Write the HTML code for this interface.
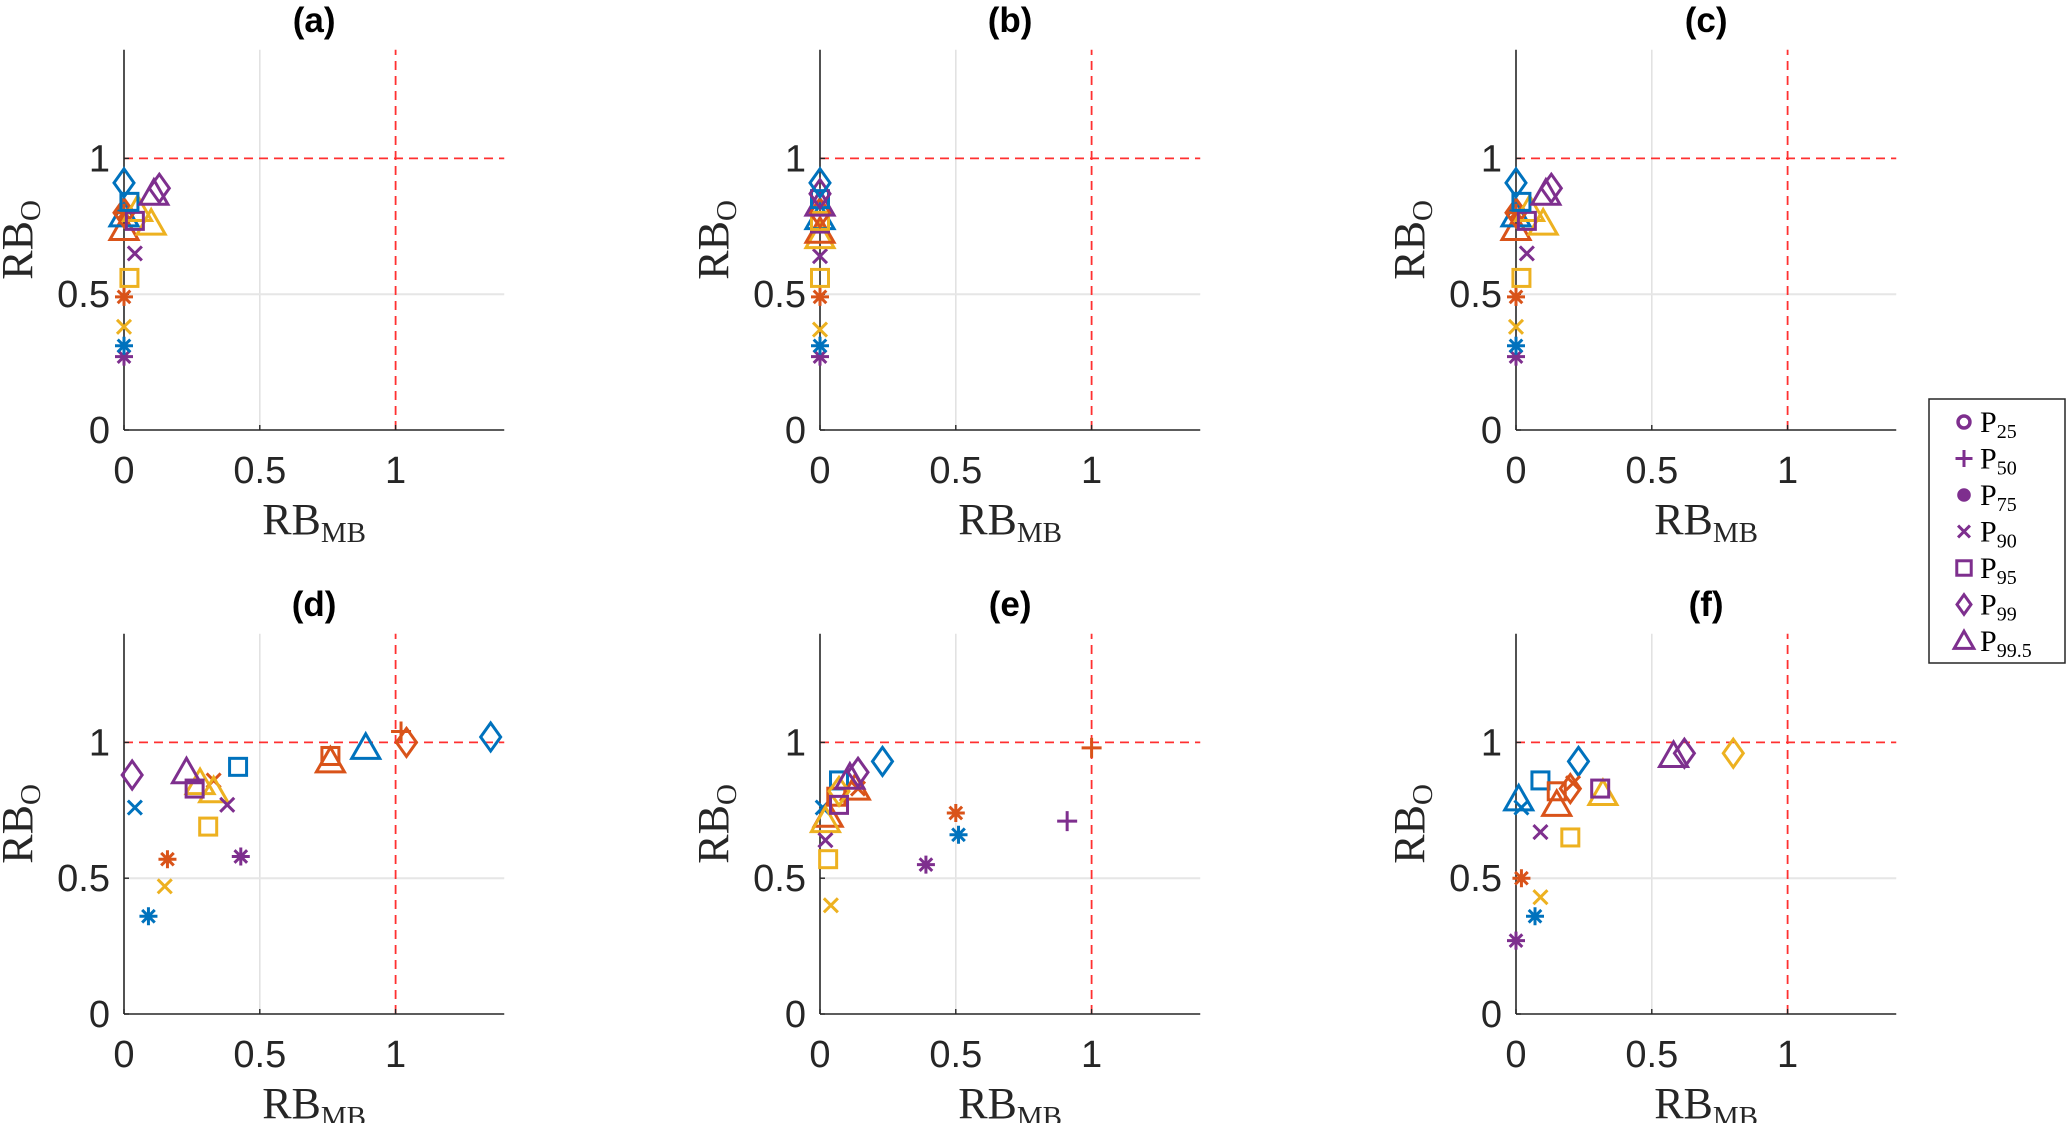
<!DOCTYPE html>
<html><head><meta charset="utf-8">
<style>
html,body{margin:0;padding:0;background:#fff;}
svg{display:block;}
</style></head>
<body>
<svg id="fig" width="2067" height="1123" viewBox="0 0 2067 1123" xmlns="http://www.w3.org/2000/svg"></svg>
<script>
// ----- data -----
const panelTitles = ["(a)","(b)","(c)","(d)","(e)","(f)"];
const seriesColors = ["#0072BD","#D95319","#EDB120","#7E2F8E"];
const seriesNames = ["blue","orange","yellow","purple"];
const tickValues = [0, 0.5, 1];
const tickLabels = ["0","0.5","1"];
const legendMarkers = ["o","+","dot","x","s","d","^"];
const legendSubs = ["25","50","75","90","95","99","99.5"];
// points per panel: [seriesIndex, marker, x, y]
const panelA = [
 [3,"*",0,0.27],[0,"*",0,0.31],[2,"x",0,0.38],[1,"*",0,0.49],[2,"s",0.02,0.56],[3,"x",0.04,0.65],
 [1,"^",0,0.74],[0,"^",0,0.79],[1,"*",0,0.80],[1,"d",0,0.80],[2,"^",0.10,0.76],[2,"^",0.05,0.81],
 [3,"s",0.04,0.77],[0,"s",0.02,0.84],[0,"d",0,0.91],[3,"^",0.11,0.87],[3,"d",0.13,0.89]
];
const panelB = [
 [3,"*",0,0.27],[0,"*",0,0.31],[2,"x",0,0.37],[1,"*",0,0.49],[2,"s",0,0.56],[3,"x",0,0.64],
 [2,"^",0,0.71],[1,"^",0,0.73],[0,"^",0,0.78],[3,"s",0,0.76],[2,"s",0,0.77],[1,"d",0,0.80],
 [3,"^",0,0.83],[0,"s",0,0.85],[3,"d",0,0.87],[0,"d",0,0.91]
];
const panelC = [
 [3,"*",0,0.27],[0,"*",0,0.31],[2,"x",0,0.38],[1,"*",0,0.49],[2,"s",0.02,0.56],[3,"x",0.04,0.65],
 [1,"^",0,0.74],[0,"^",0,0.79],[1,"*",0,0.80],[1,"d",0,0.80],[2,"^",0.10,0.76],[2,"^",0.05,0.81],
 [3,"s",0.04,0.77],[0,"s",0.02,0.84],[0,"d",0,0.91],[3,"^",0.11,0.87],[3,"d",0.13,0.89]
];
const panelD = [
 [0,"x",0.04,0.76],[0,"*",0.09,0.36],[0,"s",0.42,0.91],[0,"^",0.89,0.98],[0,"d",1.35,1.02],
 [1,"*",0.16,0.57],[1,"x",0.33,0.86],[1,"s",0.76,0.95],[1,"^",0.76,0.93],[1,"+",1.02,1.04],[1,"d",1.04,1.00],
 [2,"x",0.15,0.47],[2,"s",0.31,0.69],[2,"^",0.28,0.85],[2,"^",0.33,0.82],
 [3,"d",0.03,0.88],[3,"^",0.23,0.89],[3,"s",0.26,0.83],[3,"x",0.38,0.77],[3,"*",0.43,0.58]
];
const panelE = [
 [0,"x",0.01,0.76],[0,"s",0.07,0.86],[0,"d",0.23,0.93],[0,"*",0.51,0.66],
 [1,"^",0.03,0.73],[1,"s",0.06,0.80],[1,"x",0.14,0.83],[1,"^",0.13,0.83],[1,"*",0.50,0.74],[1,"+",1.00,0.98],
 [2,"x",0.04,0.40],[2,"s",0.03,0.57],[2,"^",0.02,0.71],[2,"d",0.07,0.82],
 [3,"x",0.02,0.64],[3,"s",0.07,0.77],[3,"^",0.11,0.87],[3,"d",0.14,0.89],[3,"*",0.39,0.55],[3,"+",0.91,0.71]
];
const panelF = [
 [0,"^",0.01,0.79],[0,"x",0.02,0.76],[0,"s",0.09,0.86],[0,"d",0.23,0.93],[0,"*",0.07,0.36],
 [1,"*",0.02,0.50],[1,"s",0.15,0.82],[1,"^",0.15,0.77],[1,"d",0.20,0.83],[1,"x",0.21,0.85],
 [2,"x",0.09,0.43],[2,"s",0.20,0.65],[2,"^",0.32,0.81],[2,"d",0.80,0.96],
 [3,"*",0,0.27],[3,"x",0.09,0.67],[3,"s",0.31,0.83],[3,"^",0.58,0.95],[3,"d",0.62,0.96]
];
const allPanels = [panelA,panelB,panelC,panelD,panelE,panelF];

// ----- layout -----
const NS = "http://www.w3.org/2000/svg";
const svg = document.getElementById("fig");
const colX = [124, 820, 1516];
const rowY0 = [430, 1014];
const UNIT = 271.6;
const MAXV = 1.4;

function mk(tag, attrs, parent){
  const e = document.createElementNS(NS, tag);
  for (const k in attrs) e.setAttribute(k, attrs[k]);
  (parent||svg).appendChild(e);
  return e;
}

function drawMarker(g, m, cx, cy, col, scale){
  const s = scale||1;
  const sw = 3;
  let e;
  if (m === "*") {
    const r = 9*s;
    const d = `M${cx-r},${cy}L${cx+r},${cy}M${cx},${cy-r}L${cx},${cy+r}M${cx-r*0.7},${cy-r*0.7}L${cx+r*0.7},${cy+r*0.7}M${cx-r*0.7},${cy+r*0.7}L${cx+r*0.7},${cy-r*0.7}`;
    e = mk("path",{d:d,stroke:col,"stroke-width":sw,fill:"none"},g);
  } else if (m === "x") {
    const r = 7*s;
    e = mk("path",{d:`M${cx-r},${cy-r}L${cx+r},${cy+r}M${cx-r},${cy+r}L${cx+r},${cy-r}`,stroke:col,"stroke-width":sw,fill:"none"},g);
  } else if (m === "+") {
    const r = 10*s;
    e = mk("path",{d:`M${cx-r},${cy}L${cx+r},${cy}M${cx},${cy-r}L${cx},${cy+r}`,stroke:col,"stroke-width":sw,fill:"none"},g);
  } else if (m === "s") {
    const r = 8.5*s;
    e = mk("rect",{x:cx-r,y:cy-r,width:2*r,height:2*r,stroke:col,"stroke-width":sw,fill:"none"},g);
  } else if (m === "d") {
    const rx = 10*s, ry = 14*s;
    e = mk("path",{d:`M${cx},${cy-ry}L${cx+rx},${cy}L${cx},${cy+ry}L${cx-rx},${cy}Z`,stroke:col,"stroke-width":sw,fill:"none"},g);
  } else if (m === "^") {
    const r = 14*s;
    e = mk("path",{d:`M${cx},${cy-r}L${cx+r},${cy+r*0.75}L${cx-r},${cy+r*0.75}Z`,stroke:col,"stroke-width":sw,fill:"none"},g);
  } else if (m === "o") {
    e = mk("circle",{cx:cx,cy:cy,r:7*s,stroke:col,"stroke-width":sw+0.5,fill:"none"},g);
  } else if (m === "dot") {
    e = mk("circle",{cx:cx,cy:cy,r:8*s,fill:col},g);
  }
  return e;
}

for (let p = 0; p < 6; p++) {
  const x0 = colX[p%3];
  const y0 = rowY0[Math.floor(p/3)];
  const sx = v => x0 + v*UNIT;
  const sy = v => y0 - v*UNIT;
  const g = mk("g",{});
  
  

  const grid = mk("g",{},g);
  
  
  mk("line",{x1:sx(0.5),y1:sy(0),x2:sx(0.5),y2:sy(MAXV),stroke:"#e0e0e0","stroke-width":1.5},grid);
  mk("line",{x1:sx(0),y1:sy(0.5),x2:sx(MAXV),y2:sy(0.5),stroke:"#e6e6e6","stroke-width":2},grid);

  const ref = mk("g",{},g);
  
  
  mk("line",{x1:sx(1),y1:sy(0),x2:sx(1),y2:sy(MAXV),stroke:"#ff3030","stroke-width":1.8,"stroke-dasharray":"9,6"},ref);
  mk("line",{x1:sx(0),y1:sy(1),x2:sx(MAXV),y2:sy(1),stroke:"#ff3030","stroke-width":1.8,"stroke-dasharray":"9,6"},ref);

  const ax = mk("g",{},g);
  
  
  mk("line",{x1:sx(0),y1:sy(0),x2:sx(0),y2:sy(MAXV),stroke:"#262626","stroke-width":1.6},ax);
  mk("line",{x1:sx(0),y1:sy(0),x2:sx(MAXV),y2:sy(0),stroke:"#262626","stroke-width":1.6},ax);
  for (let i = 0; i < tickValues.length; i++) {
    const v = tickValues[i];
    mk("line",{x1:sx(v),y1:sy(0),x2:sx(v),y2:sy(0)-5,stroke:"#262626","stroke-width":1.4},ax);
    mk("line",{x1:sx(0),y1:sy(v),x2:sx(0)+5,y2:sy(v),stroke:"#262626","stroke-width":1.4},ax);
    const xt = mk("text",{x:sx(v),y:sy(0)+53,"text-anchor":"middle","font-family":"Liberation Sans, sans-serif","font-size":38,fill:"#262626"},ax);
    xt.textContent = tickLabels[i];
    
    
    const yt = mk("text",{x:sx(0)-14,y:sy(v)+13,"text-anchor":"end","font-family":"Liberation Sans, sans-serif","font-size":38,fill:"#262626"},ax);
    yt.textContent = tickLabels[i];
    
    
  }

  const t = mk("text",{x:sx(0.7),y:sy(MAXV)-18,"text-anchor":"middle","font-family":"Liberation Sans, sans-serif","font-size":35,"font-weight":"bold",fill:"#000"},g);
  t.textContent = panelTitles[p];
  
  

  const xl = mk("text",{x:sx(0.7),y:sy(0)+104,"text-anchor":"middle","font-family":"Liberation Serif, serif","font-size":44,fill:"#262626"},g);
  xl.innerHTML = 'RB<tspan font-size="29" dy="8">MB</tspan>';
  
  

  const ycx = x0 - 92, ycy = sy(0.7);
  const yl = mk("text",{x:ycx,y:ycy,"text-anchor":"middle","font-family":"Liberation Serif, serif","font-size":44,fill:"#262626",transform:`rotate(-90 ${ycx} ${ycy})`},g);
  yl.innerHTML = 'RB<tspan font-size="29" dy="8">O</tspan>';
  
  

  const pts = mk("g",{},g);
  
  
  for (const d of allPanels[p]) {
    const e = drawMarker(pts, d[1], sx(d[2]), sy(d[3]), seriesColors[d[0]]);
    
    
  }
}

const lg = mk("g",{});


mk("rect",{x:1929,y:399,width:136,height:264,fill:"#fff",stroke:"#262626","stroke-width":1.5},lg);
for (let i = 0; i < legendMarkers.length; i++) {
  const cy = 422 + i*36.5;
  const e = drawMarker(lg, legendMarkers[i], 1964, cy, "#7E2F8E", legendMarkers[i]==="^"||legendMarkers[i]==="d" ? 0.7 : 0.85);
  
  
  const tx = mk("text",{x:1980,y:cy+10,"font-family":"Liberation Serif, serif","font-size":30,fill:"#000"},lg);
  tx.innerHTML = 'P<tspan font-size="20" dy="6">' + legendSubs[i] + '</tspan>';
  
  
}
</script>
</body></html>
